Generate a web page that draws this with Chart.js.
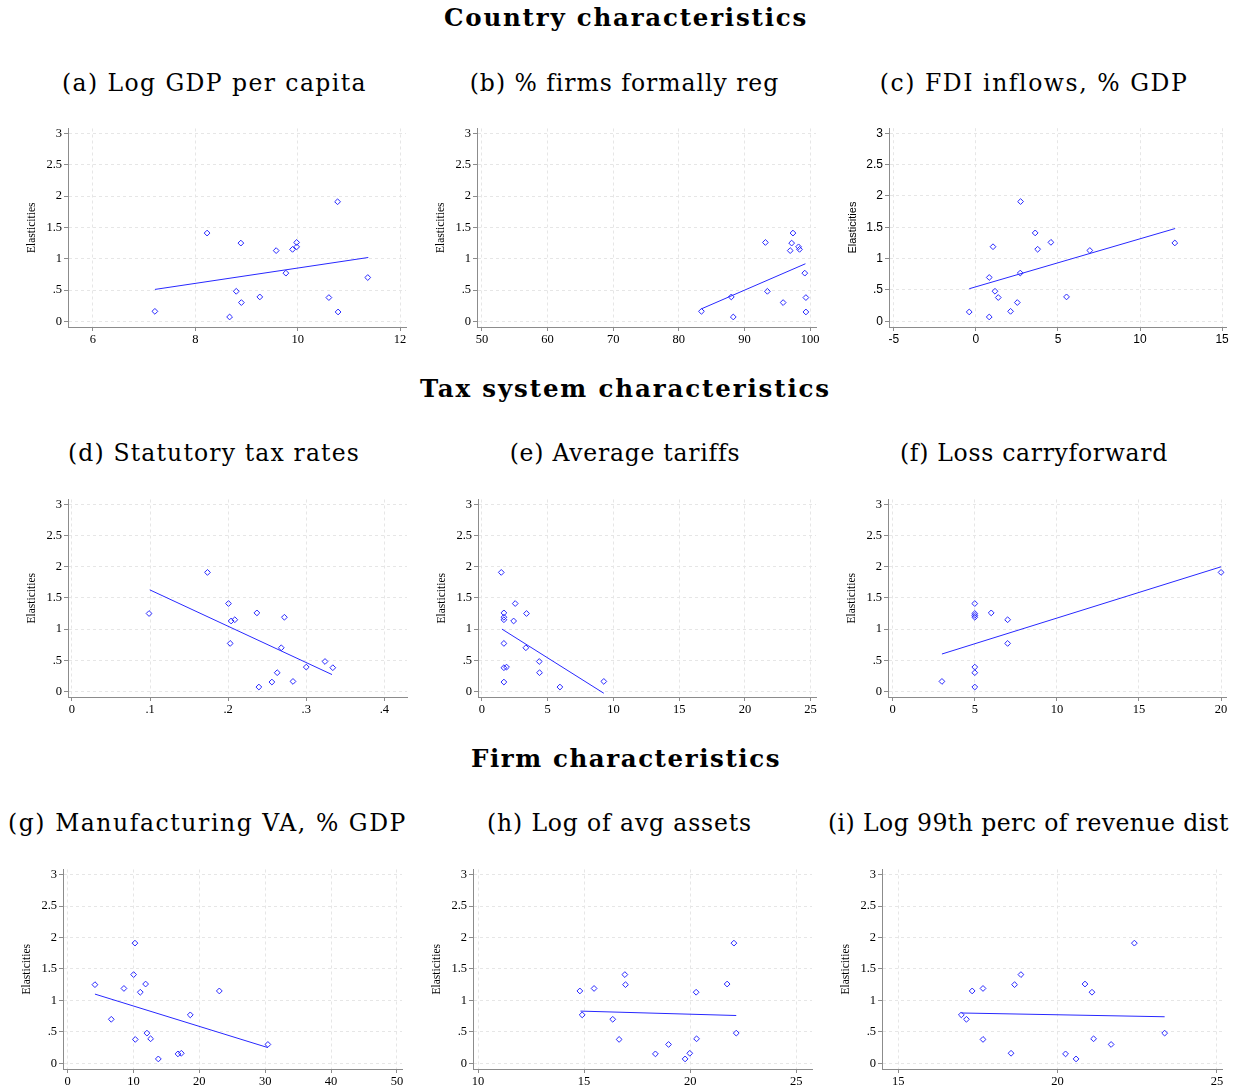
<!DOCTYPE html>
<html>
<head>
<meta charset="utf-8">
<script src="https://cdn.jsdelivr.net/npm/chart.js@4.4.1/dist/chart.umd.min.js"></script>
<style>
  body { margin: 0; background: #fff; width: 1239px; height: 1091px; position: relative; overflow: hidden; }
  .hd { position: absolute; display: inline-block; white-space: nowrap; color: #000;
        font-family: "DejaVu Serif", serif; line-height: 30px; }
  .big { font-weight: bold; font-size: 24.5px; }
  .sub { font-size: 23.5px; }
  canvas { position: absolute; }
</style>
</head>
<body>
<script>
// ========= data =========

const elastTicks = [0, 0.5, 1, 1.5, 2, 2.5, 3];

// (a) Log GDP per capita
const gdpX = [7.21, 8.23, 8.67, 8.80, 8.89, 8.90, 9.26, 9.58, 9.77, 9.90, 9.98, 9.98, 10.61, 10.78, 10.79, 11.37];
const gdpY = [0.16, 1.41, 0.07, 0.48, 1.25, 0.30, 0.39, 1.13, 0.77, 1.15, 1.19, 1.26, 0.38, 1.91, 0.15, 0.70];
const gdpFitX = [7.21, 11.38];
const gdpFitY = [0.51, 1.02];
const gdpTicks = [6, 8, 10, 12];

// (b) % firms formally registered
const regX = [83.45, 88.0, 88.3, 93.2, 93.5, 95.9, 96.98, 97.2, 97.4, 98.25, 98.4, 99.2, 99.37, 99.37];
const regY = [0.16, 0.39, 0.07, 1.26, 0.48, 0.30, 1.13, 1.25, 1.41, 1.19, 1.15, 0.77, 0.38, 0.15];
const regFitX = [83.45, 99.3];
const regFitY = [0.20, 0.92];
const regTicks = [50, 60, 70, 80, 90, 100];

// (c) FDI inflows, % GDP
const fdiX = [-0.41, 0.81, 0.81, 1.04, 1.16, 1.36, 2.11, 2.52, 2.70, 2.72, 3.61, 3.76, 4.57, 5.52, 6.94, 12.12];
const fdiY = [0.15, 0.07, 0.70, 1.19, 0.48, 0.38, 0.16, 0.30, 0.77, 1.91, 1.41, 1.15, 1.26, 0.39, 1.13, 1.25];
const fdiFitX = [-0.41, 12.14];
const fdiFitY = [0.52, 1.48];
const fdiTicks = [-5, 0, 5, 10, 15];

// (d) Statutory tax rates
const taxX = [0.0987, 0.1735, 0.2004, 0.2026, 0.2038, 0.2085, 0.2368, 0.2393, 0.256, 0.2628, 0.268, 0.272, 0.283, 0.300, 0.324, 0.334];
const taxY = [1.25, 1.91, 1.41, 0.77, 1.13, 1.15, 1.26, 0.07, 0.15, 0.30, 0.70, 1.19, 0.16, 0.39, 0.48, 0.38];
const taxFitX = [0.0996, 0.333];
const taxFitY = [1.63, 0.27];
const taxTicks = [0, 0.1, 0.2, 0.3, 0.4];

// (e) Average tariffs
const tarX = [1.47, 1.67, 1.67, 1.67, 1.67, 1.67, 1.67, 1.87, 2.41, 2.53, 3.34, 3.39, 4.36, 4.38, 5.93, 9.27];
const tarY = [1.91, 1.26, 1.19, 1.15, 0.77, 0.38, 0.15, 0.39, 1.13, 1.41, 0.70, 1.25, 0.48, 0.30, 0.07, 0.16];
const tarFitX = [1.52, 9.27];
const tarFitY = [1.00, -0.03];
const tarTicks = [0, 5, 10, 15, 20, 25];

// (f) Loss carryforward
const lossX = [3, 5, 5, 5, 5, 5, 5, 5, 6, 7, 7, 20];
const lossY = [0.16, 1.41, 1.25, 1.22, 1.19, 0.39, 0.30, 0.07, 1.26, 1.15, 0.77, 1.91];
const lossFitX = [3, 20];
const lossFitY = [0.60, 2.00];
const lossTicks = [0, 5, 10, 15, 20];

// (g) Manufacturing VA, % GDP
const manX = [4.15, 6.63, 8.55, 10.02, 10.22, 10.27, 11.03, 11.84, 12.04, 12.6, 13.77, 16.75, 17.26, 18.62, 23.03, 30.4];
const manY = [1.25, 0.70, 1.19, 1.41, 1.91, 0.38, 1.13, 1.26, 0.48, 0.39, 0.07, 0.15, 0.16, 0.77, 1.15, 0.30];
const manFitX = [4.15, 30.4];
const manFitY = [1.10, 0.25];
const manTicks = [0, 10, 20, 30, 40, 50];

// (h) Log of avg assets
const assX = [14.8, 14.91, 15.47, 16.35, 16.65, 16.92, 16.95, 18.36, 18.98, 19.76, 19.98, 20.28, 20.30, 21.74, 22.06, 22.17];
const assY = [1.15, 0.77, 1.19, 0.70, 0.38, 1.41, 1.25, 0.15, 0.30, 0.07, 0.16, 1.13, 0.39, 1.26, 1.91, 0.48];
const assFitX = [14.83, 22.17];
const assFitY = [0.83, 0.76];
const assTicks = [10, 15, 20, 25];

// (i) Log 99th perc of revenue dist
const revX = [16.98, 17.14, 17.32, 17.66, 17.66, 18.54, 18.65, 18.85, 20.25, 20.58, 20.86, 21.08, 21.13, 21.68, 22.41, 23.36];
const revY = [0.77, 0.70, 1.15, 1.19, 0.38, 0.16, 1.25, 1.41, 0.15, 0.07, 1.26, 1.13, 0.39, 0.30, 1.91, 0.48];
const revFitX = [16.98, 23.36];
const revFitY = [0.80, 0.74];
const revTicks = [15, 20, 25];

// ========= layout =========

const BLUE = "rgb(40,40,255)";
const AXIS = "#8c8c8c";
const GRID = "#e6e6e6";

// cx/cy = centre of the text, w = width it spans in the figure
const headings = [
  { text: "Country characteristics", cx: 626, cy: 18, w: 364, cls: "big" },
  { text: "(a) Log GDP per capita", cx: 214.5, cy: 83, w: 305, cls: "sub" },
  { text: "(b) % firms formally reg", cx: 624.5, cy: 83, w: 309, cls: "sub" },
  { text: "(c) FDI inflows, % GDP", cx: 1034, cy: 83, w: 308, cls: "sub" },
  { text: "Tax system characteristics", cx: 625.5, cy: 389, w: 411, cls: "big" },
  { text: "(d) Statutory tax rates", cx: 214, cy: 453, w: 292, cls: "sub" },
  { text: "(e) Average tariffs", cx: 625, cy: 453, w: 230, cls: "sub" },
  { text: "(f) Loss carryforward", cx: 1034, cy: 453, w: 268, cls: "sub" },
  { text: "Firm characteristics", cx: 626, cy: 759, w: 310, cls: "big" },
  { text: "(g) Manufacturing VA, % GDP", cx: 207.5, cy: 823, w: 399, cls: "sub" },
  { text: "(h) Log of avg assets", cx: 619.5, cy: 823, w: 265, cls: "sub" },
  { text: "(i) Log 99th perc of revenue dist", cx: 1028.5, cy: 823, w: 401, cls: "sub" }
];

headings.forEach(h => {
  const d = document.createElement("div");
  d.className = "hd " + h.cls;
  d.textContent = h.text;
  d.style.top = (h.cy - 15) + "px";
  document.body.appendChild(d);
  // stretch the letter spacing so the text spans as wide as in the figure
  const natural = d.getBoundingClientRect().width;
  d.style.letterSpacing = ((h.w - natural) / h.text.length) + "px";
  const full = d.getBoundingClientRect().width;
  d.style.left = (h.cx - full / 2) + "px";
});

// plot rectangles in page pixels (axis lines), plus axis ranges
const panels = [
  { x: gdpX, y: gdpY, fx: gdpFitX, fy: gdpFitY, ticks: gdpTicks, L: 67.7, R: 406, T: 127, B: 327, xmin: 5.512, xmax: 12.117 },
  { x: regX, y: regY, fx: regFitX, fy: regFitY, ticks: regTicks, L: 477.3, R: 816.7, T: 127, B: 327, xmin: 49.24, xmax: 100.91 },
  { x: fdiX, y: fdiY, fx: fdiFitX, fy: fdiFitY, ticks: fdiTicks, L: 889.3, R: 1226.7, T: 127, B: 327, xmin: -5.30, xmax: 15.24, sans: true },
  { x: taxX, y: taxY, fx: taxFitX, fy: taxFitY, ticks: taxTicks, L: 67.7, R: 406.7, T: 497.5, B: 696.5, xmin: -0.0051, xmax: 0.429 },
  { x: tarX, y: tarY, fx: tarFitX, fy: tarFitY, ticks: tarTicks, L: 478.3, R: 816.7, T: 497.5, B: 696.5, xmin: -0.30, xmax: 25.41 },
  { x: lossX, y: lossY, fx: lossFitX, fy: lossFitY, ticks: lossTicks, L: 888.3, R: 1226.7, T: 497.5, B: 696.5, xmin: -0.286, xmax: 20.30 },
  { x: manX, y: manY, fx: manFitX, fy: manFitY, ticks: manTicks, L: 62.7, R: 401.7, T: 867.6, B: 1068.4, xmin: -0.70, xmax: 50.76 },
  { x: assX, y: assY, fx: assFitX, fy: assFitY, ticks: assTicks, L: 472.7, R: 811.7, T: 867.6, B: 1068.4, xmin: 9.764, xmax: 25.74 },
  { x: revX, y: revY, fx: revFitX, fy: revFitY, ticks: revTicks, L: 881.7, R: 1221.7, T: 867.6, B: 1068.4, xmin: 14.49, xmax: 25.16 }
];

// stata style labels: .5 instead of 0.5
function fmt(v) {
  return String(Math.round(v * 1000) / 1000).replace(/^(-?)0\./, "$1.");
}

function pts(xs, ys) {
  return xs.map((x, i) => ({ x: x, y: ys[i] }));
}

function makePanel(p) {
  const Wy = 48, Hx = 24, padT = 8, padR = 10;
  const w = Math.round(p.R - p.L + Wy + padR);
  const h = Math.round(p.B - p.T + padT + Hx);
  const c = document.createElement("canvas");
  c.width = w; c.height = h;
  c.style.width = w + "px"; c.style.height = h + "px";
  c.style.left = (p.L - Wy) + "px";
  c.style.top = (p.T - padT) + "px";
  document.body.appendChild(c);

  const fam = p.sans ? '"Liberation Sans", Arial, sans-serif' : '"Liberation Serif", "Times New Roman", serif';
  const tickFont = { family: fam, size: p.sans ? 12 : 12.5 };

  return new Chart(c, {
    type: "scatter",
    data: {
      datasets: [
        {
          type: "line",
          data: pts(p.fx, p.fy),
          borderColor: BLUE,
          borderWidth: 1,
          pointRadius: 0,
          fill: false
        },
        {
          data: pts(p.x, p.y),
          pointStyle: "rectRot",
          pointRadius: 2.9,
          borderColor: BLUE,
          backgroundColor: "rgba(0,0,0,0)",
          borderWidth: 1
        }
      ]
    },
    options: {
      responsive: false,
      maintainAspectRatio: false,
      animation: false,
      devicePixelRatio: 1,
      layout: { padding: { top: padT, right: padR, left: 0, bottom: 0 } },
      plugins: { legend: { display: false }, tooltip: { enabled: false } },
      scales: {
        x: {
          type: "linear",
          min: p.xmin,
          max: p.xmax,
          afterBuildTicks: s => { s.ticks = p.ticks.map(v => ({ value: v })); },
          afterFit: s => { s.height = Hx; },
          ticks: { callback: fmt, color: "#000", font: tickFont, padding: 1, maxRotation: 0, autoSkip: false },
          grid: { color: GRID, tickColor: AXIS, tickLength: 4 },
          border: { color: AXIS, dash: [3, 3] }
        },
        y: {
          type: "linear",
          min: -0.09,
          max: 3.08,
          afterBuildTicks: s => { s.ticks = elastTicks.map(v => ({ value: v })); },
          afterFit: s => { s.width = Wy; },
          ticks: { callback: fmt, color: "#000", font: tickFont, padding: 2, autoSkip: false },
          grid: { color: GRID, tickColor: AXIS, tickLength: 4 },
          border: { color: AXIS, dash: [3, 3] },
          title: {
            display: true,
            text: "Elasticities",
            color: "#000",
            font: { family: fam, size: p.sans ? 11 : 11.5 },
            padding: { top: 5, bottom: 0 }
          }
        }
      }
    }
  });
}

panels.forEach(makePanel);
</script>
</body>
</html>
